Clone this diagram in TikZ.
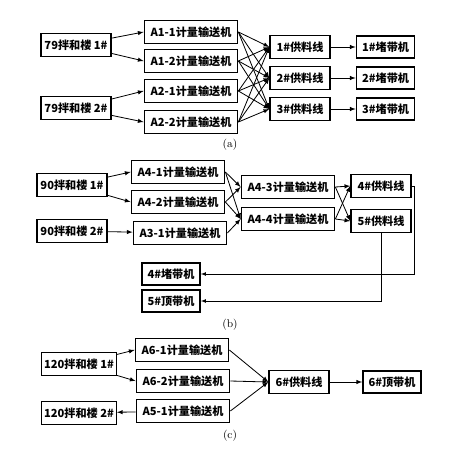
\documentclass[tikz,border=0pt]{standalone}
\usepackage{fontspec}
\setmainfont{Noto Sans CJK SC}
\newfontfamily\capfont{Latin Modern Roman}
\usetikzlibrary{positioning}

\begin{document}
\begin{tikzpicture}[x=0.03cm,y=-0.03cm,node distance=0.75cm,
      plant/.style={rectangle,draw=black,line width=1.2pt,minimum width=2.1cm,minimum height=0.7cm,inner sep=2pt,font=\bfseries},
      conv/.style={rectangle,draw=black,line width=1.2pt,minimum width=2.8cm,minimum height=0.68cm,inner sep=1pt,font=\bfseries},
      feed/.style={rectangle,draw=black,line width=1.2pt,minimum width=1.8cm,minimum height=0.68cm,inner sep=1pt,font=\bfseries},
      belt/.style={rectangle,draw=black,line width=1.2pt,minimum width=1.75cm,minimum height=0.66cm,inner sep=1pt,font=\bfseries},
      caption/.style={font=\capfont},
      arr/.style={line width=0.7pt,-latex}
      ]
      \fontsize{9.5}{11}\selectfont
      \useasboundingbox (0,0) rectangle (457,455);
      \node (p1) [plant] at (76,45)  {79拌和楼 1\#};
      \node (p2) [plant] at (76,108) {79拌和楼 2\#};
      \node (a11) [conv] at (191,32)  {A1-1计量输送机};
      \node (a12) [conv] at (191,61)  {A1-2计量输送机};
      \node (a21) [conv] at (191,91)  {A2-1计量输送机};
      \node (a22) [conv] at (191,122) {A2-2计量输送机};
      \node (f1) [feed] at (300,47)  {1\#供料线};
      \node (f2) [feed] at (300,78)  {2\#供料线};
      \node (f3) [feed] at (300,109) {3\#供料线};
      \node (s1) [belt, right=of f1] {1\#堵带机};
      \node (s2) [belt, right=of f2] {2\#堵带机};
      \node (s3) [belt, right=of f3] {3\#堵带机};
      \node (la) [caption] at (230,145) {(a)};
      \draw[arr] (p1) -- (a11.west);
      \draw[arr] (p1) -- (a12.west);
      \draw[arr] (p2) -- (a21.west);
      \draw[arr] (p2) -- (a22.west);
      \draw[arr] (a11.east) -- (f1.west);
      \draw[arr] (a11.east) -- (f2.west);
      \draw[arr] (a11.east) -- (f3.west);
      \draw[arr] (a12.east) -- (f1.west);
      \draw[arr] (a12.east) -- (f2.west);
      \draw[arr] (a12.east) -- (f3.west);
      \draw[arr] (a21.east) -- (f1.west);
      \draw[arr] (a21.east) -- (f2.west);
      \draw[arr] (a21.east) -- (f3.west);
      \draw[arr] (a22.east) -- (f1.west);
      \draw[arr] (a22.east) -- (f2.west);
      \draw[arr] (a22.east) -- (f3.west);
      \draw[arr] (f1) -- (s1);
      \draw[arr] (f2) -- (s2);
      \draw[arr] (f3) -- (s3);
      \node (q1) [plant] at (72,185) {90拌和楼 1\#};
      \node (q2) [plant] at (72,231) {90拌和楼 2\#};
      \node (b41) [conv] at (178,172) {A4-1计量输送机};
      \node (b42) [conv] at (178,202) {A4-2计量输送机};
      \node (b31) [conv] at (180,233) {A3-1计量输送机};
      \node (b43) [conv] at (288,187) {A4-3计量输送机};
      \node (b44) [conv] at (288,219) {A4-4计量输送机};
      \node (f4) [feed] at (381,186) {4\#供料线};
      \node (f5) [feed] at (381,221) {5\#供料线};
      \node (t4) [belt] at (171,274) {4\#堵带机};
      \node (t5) [belt] at (171,301) {5\#顶带机};
      \node (lb) [caption] at (230,325) {(b)};
      \draw[arr] (q1) -- (b41.west);
      \draw[arr] (q1) -- (b42.west);
      \draw[arr] (q2) -- (b31);
      \draw[arr] (b41.east) -- (b43.west);
      \draw[arr] (b41.east) -- (b44.west);
      \draw[arr] (b42.east) -- (b43.west);
      \draw[arr] (b42.east) -- (b44.west);
      \draw[arr] (b31.east) -- (b44.west);
      \draw[arr] (b43.east) -- (f4.west);
      \draw[arr] (b43.east) -- (f5.west);
      \draw[arr] (b44.east) -- (f4.west);
      \draw[arr] (b44.east) -- (f5.west);
      \draw[arr,line width=0.5pt] (f4.east) -- ++(3,0) |- (t4.east);
      \draw[arr,line width=0.5pt] (f5.south) |- (t5.east);
      \node (r1) [plant] at (79,364) {120拌和楼 1\#};
      \node (r2) [plant] at (79,413) {120拌和楼 2\#};
      \node (c61) [conv] at (182,350) {A6-1计量输送机};
      \node (c62) [conv] at (183,381) {A6-2计量输送机};
      \node (c51) [conv] at (183,411) {A5-1计量输送机};
      \node (f6) [feed] at (299,382) {6\#供料线};
      \node (u6) [belt] at (392,382) {6\#顶带机};
      \node (lc) [caption] at (230,436) {(c)};
      \draw[arr] (r1) -- (c61.west);
      \draw[arr] (r1) -- (c62.west);
      \draw[arr] (c51) -- (r2);
      \draw[arr] (c61.east) -- (f6.west);
      \draw[arr] (c62.east) -- (f6.west);
      \draw[arr] (c51.east) -- (f6.west);
      \draw[arr] (f6) -- (u6);
    \end{tikzpicture}
\end{document}
